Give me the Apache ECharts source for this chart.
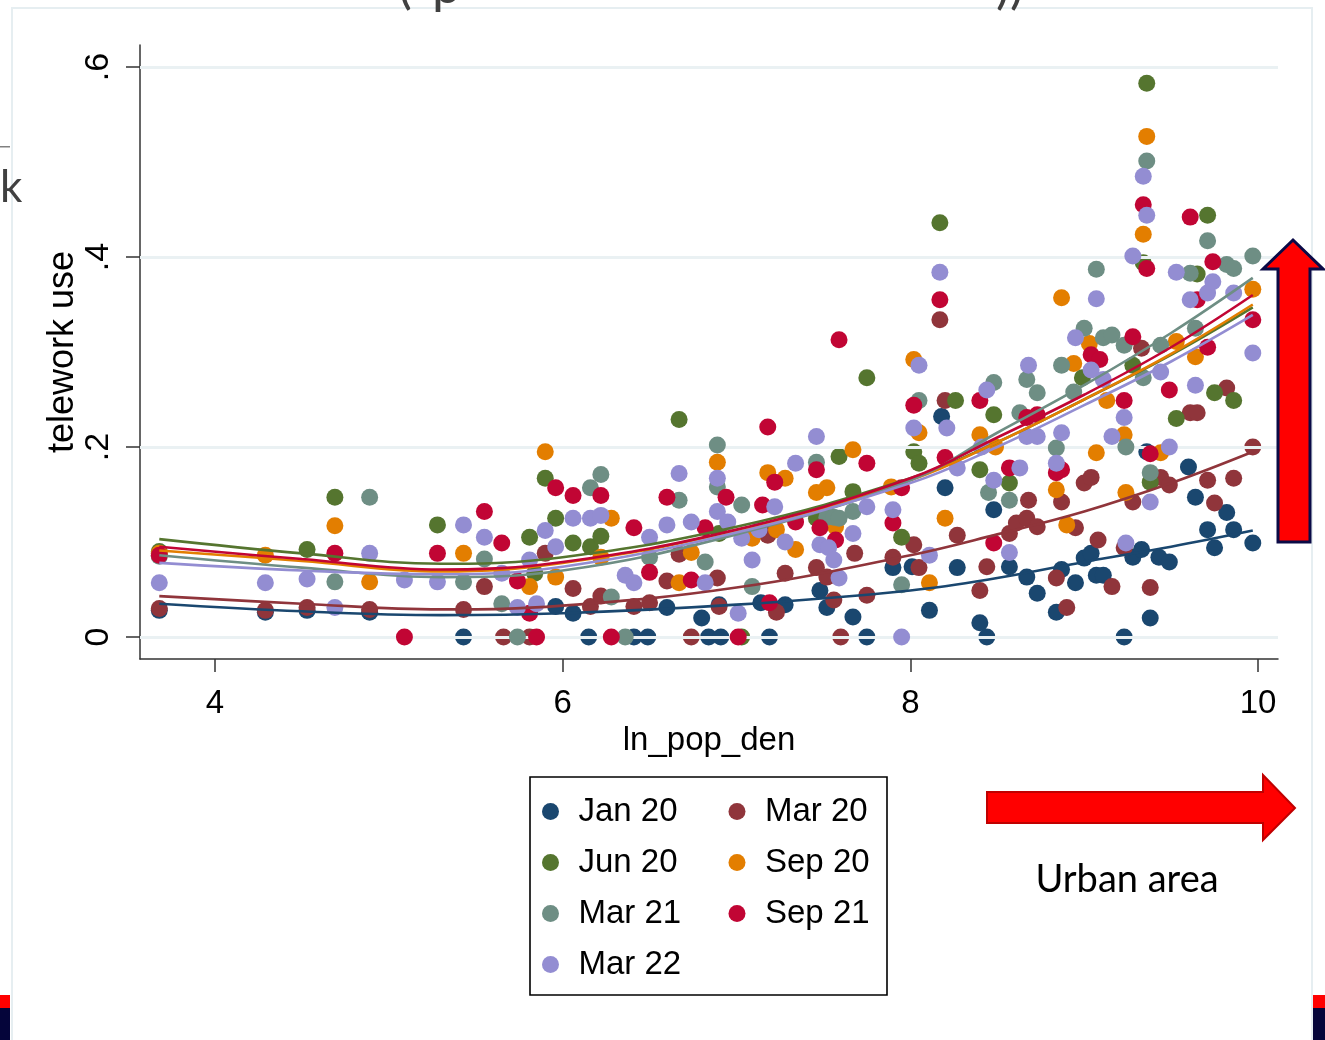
<!DOCTYPE html>
<html>
<head>
<meta charset="utf-8">
<script src="https://cdn.jsdelivr.net/npm/echarts@6/dist/echarts.min.js"></script>
<style>html,body{margin:0;padding:0;background:#fff}#c{width:1325px;height:1040px}</style>
</head>
<body>
<div id="c"></div>
<script>
const seriesNames = ['Jan 20','Mar 20','Jun 20','Sep 20','Mar 21','Sep 21','Mar 22'];
const xTicks = [4, 6, 8, 10];
const yTicks = [0, 0.2, 0.4, 0.6];
const yTickLabels = ['0', '.2', '.4', '.6'];

const jan20 = [[3.68,0.028],[4.29,0.026],[4.53,0.028],[4.89,0.026],[5.43,0],[5.96,0.032],[6.06,0.025],[6.15,0],[6.41,0],[6.49,0],[6.60,0.031],[6.80,0.020],[6.84,0],[6.90,0.034],[6.91,0],[7.14,0.036],[7.19,0],[7.28,0.034],[7.48,0.049],[7.52,0.031],[7.67,0.021],[7.75,0],[7.90,0.073],[8.01,0.074],[8.11,0.028],[8.18,0.232],[8.20,0.157],[8.27,0.073],[8.40,0.015],[8.44,0],[8.48,0.134],[8.57,0.074],[8.67,0.063],[8.73,0.046],[8.84,0.026],[8.87,0.071],[8.95,0.057],[9.00,0.083],[9.04,0.088],[9.07,0.065],[9.11,0.065],[9.23,0],[9.28,0.084],[9.33,0.092],[9.36,0.195],[9.38,0.020],[9.43,0.084],[9.49,0.079],[9.60,0.179],[9.64,0.147],[9.71,0.113],[9.75,0.094],[9.82,0.131],[9.86,0.113],[9.97,0.099]];
const mar20 = [[3.68,0.030],[4.29,0.028],[4.53,0.031],[4.89,0.029],[5.43,0.029],[5.55,0.053],[5.66,0],[5.81,0],[5.90,0.088],[6.06,0.051],[6.16,0.032],[6.22,0.043],[6.41,0.032],[6.50,0.036],[6.60,0.059],[6.67,0.087],[6.74,0],[6.89,0.062],[6.90,0.032],[7.18,0.107],[7.23,0.026],[7.28,0.067],[7.46,0.073],[7.52,0.063],[7.56,0.039],[7.60,0],[7.68,0.088],[7.75,0.044],[7.90,0.084],[8.02,0.097],[8.05,0.073],[8.17,0.334],[8.20,0.249],[8.27,0.107],[8.40,0.049],[8.44,0.074],[8.57,0.109],[8.61,0.120],[8.67,0.125],[8.68,0.144],[8.73,0.116],[8.84,0.062],[8.87,0.142],[8.90,0.031],[8.95,0.115],[9.00,0.162],[9.04,0.168],[9.08,0.102],[9.16,0.053],[9.23,0.094],[9.28,0.142],[9.33,0.304],[9.38,0.052],[9.44,0.168],[9.49,0.160],[9.61,0.236],[9.65,0.236],[9.71,0.165],[9.75,0.141],[9.82,0.262],[9.86,0.167],[9.97,0.200]];
const jun20 = [[3.68,0.090],[4.53,0.092],[4.69,0.147],[5.28,0.118],[5.81,0.105],[5.84,0.067],[5.90,0.167],[5.96,0.125],[6.06,0.099],[6.16,0.095],[6.22,0.106],[6.67,0.229],[6.90,0.109],[7.03,0],[7.46,0.125],[7.59,0.190],[7.67,0.153],[7.75,0.273],[7.95,0.105],[8.02,0.195],[8.05,0.183],[8.17,0.436],[8.26,0.249],[8.40,0.176],[8.48,0.234],[8.57,0.162],[8.99,0.273],[9.28,0.286],[9.34,0.394],[9.36,0.583],[9.38,0.163],[9.53,0.230],[9.65,0.382],[9.71,0.444],[9.75,0.257],[9.86,0.249]];
const sep20 = [[3.68,0.088],[4.29,0.086],[4.69,0.117],[4.89,0.058],[5.43,0.088],[5.81,0.053],[5.90,0.195],[5.96,0.063],[6.22,0.084],[6.28,0.125],[6.67,0.057],[6.74,0.089],[6.89,0.184],[7.09,0.104],[7.18,0.173],[7.23,0.113],[7.28,0.167],[7.34,0.092],[7.46,0.152],[7.52,0.157],[7.57,0.116],[7.67,0.197],[7.89,0.158],[8.02,0.292],[8.05,0.215],[8.11,0.057],[8.20,0.125],[8.40,0.213],[8.49,0.200],[8.84,0.155],[8.87,0.357],[8.90,0.118],[8.94,0.288],[9.03,0.309],[9.07,0.194],[9.13,0.249],[9.23,0.213],[9.24,0.152],[9.34,0.424],[9.36,0.527],[9.44,0.194],[9.53,0.311],[9.64,0.295],[9.97,0.366]];
const mar21 = [[3.68,0.085],[4.69,0.058],[4.89,0.147],[5.43,0.058],[5.55,0.082],[5.65,0.035],[5.74,0],[6.16,0.157],[6.22,0.171],[6.28,0.042],[6.36,0],[6.50,0.084],[6.67,0.144],[6.82,0.079],[6.89,0.202],[6.89,0.158],[7.03,0.139],[7.09,0.053],[7.46,0.184],[7.52,0.126],[7.56,0.126],[7.59,0.125],[7.67,0.132],[7.95,0.055],[8.05,0.249],[8.45,0.152],[8.48,0.268],[8.57,0.144],[8.63,0.236],[8.67,0.271],[8.73,0.257],[8.84,0.199],[8.87,0.286],[8.94,0.258],[9.00,0.325],[9.07,0.387],[9.11,0.315],[9.16,0.318],[9.23,0.307],[9.24,0.200],[9.34,0.273],[9.36,0.501],[9.38,0.173],[9.44,0.307],[9.61,0.383],[9.64,0.325],[9.71,0.417],[9.82,0.392],[9.86,0.388],[9.97,0.401]];
const sep21 = [[3.68,0.086],[4.69,0.088],[5.09,0],[5.28,0.088],[5.55,0.132],[5.65,0.099],[5.74,0.059],[5.81,0.025],[5.85,0],[5.96,0.157],[6.06,0.149],[6.22,0.149],[6.28,0],[6.41,0.115],[6.50,0.068],[6.60,0.147],[6.74,0.060],[6.82,0.115],[6.94,0.147],[7.01,0],[7.15,0.139],[7.18,0.221],[7.19,0.036],[7.22,0.163],[7.34,0.121],[7.46,0.176],[7.48,0.115],[7.57,0.102],[7.59,0.313],[7.75,0.183],[7.90,0.120],[7.95,0.157],[8.02,0.244],[8.17,0.355],[8.20,0.189],[8.40,0.249],[8.48,0.099],[8.57,0.178],[8.67,0.231],[8.73,0.234],[8.84,0.173],[8.87,0.176],[9.04,0.297],[9.09,0.292],[9.23,0.249],[9.28,0.316],[9.34,0.455],[9.36,0.388],[9.38,0.193],[9.49,0.260],[9.61,0.442],[9.65,0.355],[9.71,0.305],[9.74,0.395],[9.97,0.334]];
const mar22 = [[3.68,0.057],[4.29,0.057],[4.53,0.061],[4.69,0.031],[4.89,0.088],[5.09,0.060],[5.28,0.058],[5.43,0.118],[5.55,0.105],[5.65,0.067],[5.74,0.031],[5.81,0.081],[5.85,0.035],[5.90,0.112],[5.96,0.095],[6.06,0.125],[6.16,0.125],[6.22,0.128],[6.36,0.065],[6.41,0.057],[6.50,0.105],[6.60,0.118],[6.67,0.172],[6.74,0.121],[6.82,0.057],[6.89,0.167],[6.89,0.132],[6.95,0.121],[7.01,0.025],[7.03,0.104],[7.09,0.081],[7.13,0.113],[7.22,0.137],[7.28,0.100],[7.34,0.183],[7.46,0.211],[7.48,0.097],[7.53,0.094],[7.56,0.081],[7.59,0.062],[7.67,0.109],[7.75,0.137],[7.90,0.134],[7.95,0],[8.02,0.220],[8.05,0.286],[8.11,0.086],[8.17,0.384],[8.21,0.220],[8.27,0.178],[8.41,0.200],[8.44,0.260],[8.48,0.165],[8.57,0.089],[8.63,0.178],[8.67,0.211],[8.68,0.286],[8.73,0.211],[8.84,0.183],[8.87,0.215],[8.95,0.315],[9.04,0.281],[9.07,0.356],[9.11,0.271],[9.16,0.211],[9.23,0.231],[9.24,0.099],[9.28,0.401],[9.34,0.485],[9.36,0.444],[9.38,0.142],[9.44,0.279],[9.49,0.200],[9.53,0.384],[9.61,0.355],[9.64,0.265],[9.71,0.362],[9.74,0.374],[9.86,0.362],[9.97,0.299]];

// quadratic-fit curves
const fitJan20 = [[3.68,0.035],[4.5,0.027],[5.3,0.023],[6,0.025],[7,0.034],[8,0.049],[8.5,0.062],[9,0.079],[9.5,0.095],[9.97,0.112]];
const fitMar20 = [[3.68,0.043],[4.5,0.035],[5.3,0.029],[6,0.033],[7,0.052],[8,0.086],[8.5,0.108],[9,0.132],[9.5,0.162],[9.97,0.195]];
const fitJun20 = [[3.68,0.103],[4.5,0.088],[5.3,0.077],[6,0.084],[7,0.116],[8,0.167],[8.5,0.205],[9,0.25],[9.5,0.297],[9.97,0.347]];
const fitSep20 = [[3.68,0.091],[4.5,0.080],[5.3,0.069],[6,0.078],[7,0.112],[8,0.165],[8.5,0.205],[9,0.25],[9.5,0.298],[9.97,0.350]];
const fitMar21 = [[3.68,0.086],[4.5,0.073],[5.3,0.063],[6,0.070],[7,0.108],[8,0.165],[8.5,0.215],[9,0.265],[9.5,0.32],[9.97,0.378]];
const fitSep21 = [[3.68,0.095],[4.5,0.082],[5.3,0.071],[6,0.079],[7,0.113],[8,0.167],[8.5,0.21],[9,0.255],[9.5,0.305],[9.97,0.360]];
const fitMar22 = [[3.68,0.078],[4.5,0.070],[5.3,0.066],[6,0.074],[7,0.110],[8,0.162],[8.5,0.200],[9,0.244],[9.5,0.290],[9.97,0.339]];

const colors = ['#1a476f','#90353b','#55752f','#e37e00','#6e8e84','#c10534','#938dd2'];
const scatterData = [jan20, mar20, jun20, sep20, mar21, sep21, mar22];
const fitData = [fitJan20, fitMar20, fitJun20, fitSep20, fitMar21, fitSep21, fitMar22];

const FONT = '"Liberation Sans", Arial, sans-serif';
const SLIDE_FONT = 'Lato, "Open Sans", sans-serif';
const chart = echarts.init(document.getElementById('c'), null, {renderer: 'canvas'});

const series = [{
  type: 'scatter', name: '_grid', data: [], silent: true, z: 0,
  markLine: {
    silent: true, symbol: 'none', label: {show: false},
    lineStyle: {color: '#eaf1f3', width: 3, type: 'solid'},
    emphasis: {disabled: true},
    data: yTicks.map(v => ({yAxis: v}))
  }
}];
scatterData.forEach((d, i) => series.push({
  type: 'scatter', name: seriesNames[i], data: d, symbol: 'circle', symbolSize: 17,
  itemStyle: {color: colors[i], opacity: 1}, z: 2 + i
}));
fitData.forEach((d, i) => series.push({
  type: 'line', name: 'fit ' + seriesNames[i], data: d, smooth: 0.4, showSymbol: false,
  lineStyle: {color: colors[i], width: 2.6}, z: 20 + i
}));

const option = {
  animation: false,
  backgroundColor: '#ffffff',
  color: colors,
  grid: {left: 140, top: 45, width: 1138, height: 614},
  xAxis: {
    type: 'value', min: 3.569, max: 10.115,
    name: 'ln_pop_den', nameLocation: 'middle', nameGap: 61,
    nameTextStyle: {fontSize: 33, fontFamily: FONT, color: '#000'},
    axisLine: {show: true, onZero: false, lineStyle: {color: '#333', width: 1.5}},
    axisTick: {show: true, customValues: xTicks, length: 13, lineStyle: {color: '#333', width: 1.5}},
    axisLabel: {customValues: xTicks, margin: 28, fontSize: 33, fontFamily: FONT, color: '#000'},
    splitLine: {show: false}
  },
  yAxis: {
    type: 'value', min: -0.0232, max: 0.6232,
    name: 'telework use', nameLocation: 'middle', nameGap: 59, nameRotate: 90, nameMoveOverlap: false,
    nameTextStyle: {fontSize: 36, fontFamily: FONT, color: '#000'},
    axisLine: {show: true, onZero: false, lineStyle: {color: '#333', width: 1.5}},
    axisTick: {show: true, customValues: yTicks, length: 14, lineStyle: {color: '#333', width: 1.5}},
    axisLabel: {
      customValues: yTicks, rotate: 90, margin: 24, fontSize: 34, fontFamily: FONT, color: '#000',
      formatter: v => { const k = yTicks.findIndex(t => Math.abs(t - v) < 1e-9); return k >= 0 ? yTickLabels[k] : ''; }
    },
    splitLine: {show: false}
  },
  legend: {
    data: seriesNames, left: 542, top: 795, width: 400, orient: 'horizontal',
    icon: 'circle', itemWidth: 46, itemHeight: 17, itemGap: 18, padding: 0,
    textStyle: {fontSize: 33, fontFamily: FONT, color: '#000', width: 132, lineHeight: 29}
  },
  graphic: [
    {type: 'rect', shape: {x: 12, y: 8, width: 1300, height: 1040}, style: {fill: 'none', stroke: '#e6eef1', lineWidth: 2}, z: 0, silent: true},
    {type: 'rect', shape: {x: 530, y: 777, width: 357, height: 218}, style: {fill: 'none', stroke: '#000', lineWidth: 1.6}, z: 50},
    {type: 'polygon', shape: {points: [[1293,240],[1323,269],[1310,269],[1310,542],[1278,542],[1278,269],[1263,269]]}, style: {fill: '#ff0000', stroke: '#0a0a46', lineWidth: 3}, z: 60},
    {type: 'polygon', shape: {points: [[987,792],[1263,792],[1263,775],[1295,808],[1263,840],[1263,823],[987,823]]}, style: {fill: '#ff0000', stroke: '#c00000', lineWidth: 2}, z: 60},
    {type: 'text', x: 1127, y: 880, style: {text: 'Urban area', font: '38px ' + SLIDE_FONT, fill: '#000', align: 'center', verticalAlign: 'middle'}, z: 60},
    {type: 'text', x: 0, y: 188, style: {text: 'k', font: '44px ' + SLIDE_FONT, fill: '#404040', align: 'left', verticalAlign: 'middle'}, z: 60},
    {type: 'rect', shape: {x: 0, y: 146, width: 10, height: 1.5}, style: {fill: '#808080'}, z: 60},
    {type: 'text', x: 398, y: -40, style: {text: '(', font: '52px ' + SLIDE_FONT, fill: '#404040', align: 'left', verticalAlign: 'top'}, z: 60},
    {type: 'text', x: 432, y: -40, style: {text: 'p', font: '52px ' + SLIDE_FONT, fill: '#404040', align: 'left', verticalAlign: 'top'}, z: 60},
    {type: 'text', x: 996, y: -40, style: {text: '))', font: '52px ' + SLIDE_FONT, fill: '#404040', align: 'left', verticalAlign: 'top'}, z: 60},
    {type: 'rect', shape: {x: 0, y: 995, width: 10, height: 13}, style: {fill: '#ff0000'}, z: 60},
    {type: 'rect', shape: {x: 0, y: 1008, width: 10, height: 32}, style: {fill: '#05053a'}, z: 60},
    {type: 'rect', shape: {x: 1313, y: 995, width: 12, height: 13}, style: {fill: '#ff0000'}, z: 60},
    {type: 'rect', shape: {x: 1313, y: 1008, width: 12, height: 32}, style: {fill: '#05053a'}, z: 60}
  ],
  series: series
};
chart.setOption(option);
</script>
</body>
</html>
